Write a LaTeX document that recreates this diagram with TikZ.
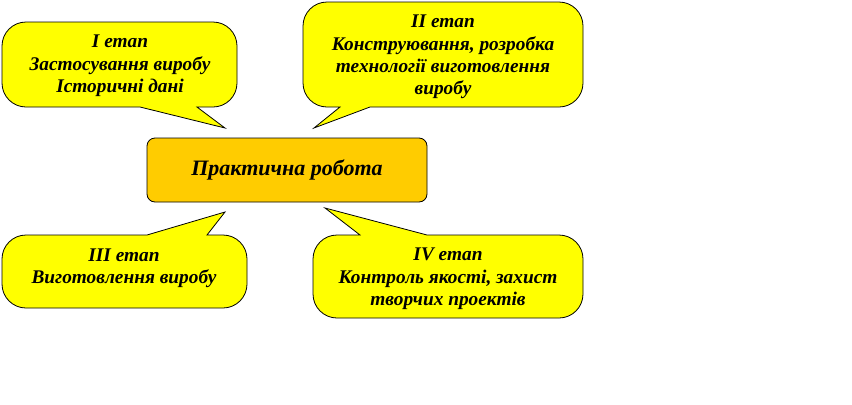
\documentclass[tikz,border=0pt]{standalone}
\usepackage{fontspec}
\setmainfont{Liberation Serif}
\usepackage{tikz}
\definecolor{calloutyellow}{HTML}{FFFF00}
\definecolor{workgold}{HTML}{FFCC00}

\begin{document}
\begin{tikzpicture}[
  x=0.75pt, y=-0.75pt,
  font=\bfseries\itshape\fontsize{14.5}{16.8}\selectfont,
  callout/.style={draw=black, line width=0.6pt, fill=calloutyellow, line join=miter},
  txt/.style={align=center, inner sep=0pt},
  work/.style={draw=black, line width=0.6pt, fill=workgold, rounded corners=6pt, minimum width=210pt, minimum height=48pt, font=\bfseries\itshape\fontsize{16.5}{19}\selectfont}
]
\useasboundingbox (0,0) rectangle (852,404);
% central box
\node[work] (work) at (287,170) {Практична робота};
% stage I
\draw[callout] (197,107) [rounded corners=18pt] -- (237,107) -- (237,22) -- (2,22) -- (2,107) [sharp corners] -- (140,107) -- (225,128) -- cycle;
\node[txt] (stage1) at (120,66) {I етап\\Застосування виробу\\Історичні дані};
% stage II
\draw[callout] (370,107) [rounded corners=18pt] -- (583,107) -- (583,2) -- (303,2) -- (303,107) [sharp corners] -- (340,107) -- (314,128) -- cycle;
\node[txt] (stage2) at (443,57) {II етап\\Конструювання, розробка\\технології виготовлення\\виробу};
% stage III
\draw[callout] (147,235) [rounded corners=18pt] -- (2,235) -- (2,308) -- (247,308) -- (247,235) [sharp corners] -- (207,235) -- (225,212) -- cycle;
\node[txt] (stage3) at (124,268) {III етап\\Виготовлення виробу};
% stage IV
\draw[callout] (427,235) [rounded corners=18pt] -- (583,235) -- (583,318) -- (313,318) -- (313,235) [sharp corners] -- (360,235) -- (325,208) -- cycle;
\node[txt] (stage4) at (448,279) {IV етап\\Контроль якості, захист\\творчих проектів};
\end{tikzpicture}
\end{document}
